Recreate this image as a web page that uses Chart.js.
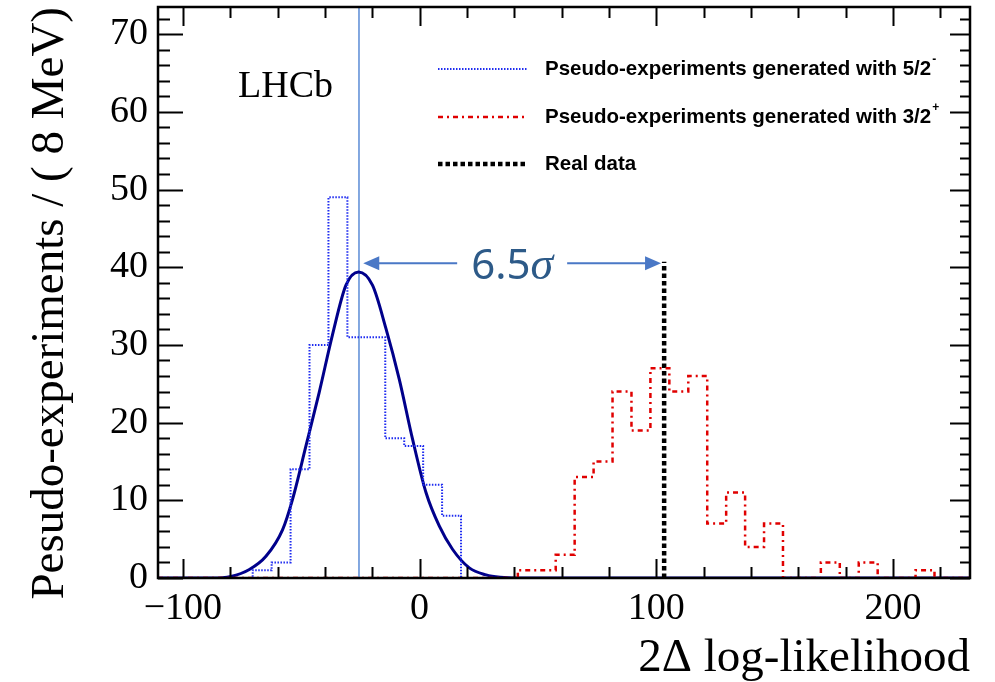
<!DOCTYPE html>
<html>
<head>
<meta charset="utf-8">
<script src="https://cdn.jsdelivr.net/npm/chart.js@4"></script>
<style>
  html, body { margin: 0; padding: 0; background: #fff; }
  #llChart { display: block; }
</style>
</head>
<body>
<canvas id="llChart" width="995" height="682"></canvas>
<script>
"use strict";

// bin edges shared by both toy histograms (8 units per bin)
const BIN_EDGES = [-110.5, -102.5, -94.5, -86.5, -78.5, -70.5, -62.5, -54.5, -46.5, -38.5,
  -30.5, -22.5, -14.5, -6.5, 1.5, 9.5, 17.5, 25.5, 33.5, 41.5, 49.5, 57.5, 65.5, 73.5,
  81.5, 89.5, 97.5, 105.5, 113.5, 121.5, 129.5, 137.5, 145.5, 153.5, 161.5, 169.5,
  177.5, 185.5, 193.5, 201.5, 209.5, 217.5, 225.5, 233.5];

// toys generated with 5/2-
const COUNTS_52M = [0, 0, 0, 0, 0, 1, 2, 14, 30, 49, 31, 31, 18, 17, 12, 8, 0, 0, 0, 0,
  0, 0, 0, 0, 0, 0, 0, 0, 0, 0, 0, 0, 0, 0, 0, 0, 0, 0, 0, 0, 0, 0, 0];
// toys generated with 3/2+
const COUNTS_32P = [0, 0, 0, 0, 0, 0, 0, 0, 0, 0, 0, 0, 0, 0, 0, 0, 0, 0, 0, 1,
  1, 3, 13, 15, 24, 19, 27, 24, 26, 7, 11, 4, 7, 0, 0, 2, 0, 2, 0, 0, 1, 0, 0];

// gaussian fit to the 5/2- toys
const FIT_X = [-110.5, -88, -79.7, -71.9, -64.9, -57.9, -53.7, -48.0, -42.4, -36.8, -31.1, -25.8,
  -19.9, -14.2, -8.6, -3.0, 2.7, 8.3, 13.9, 21.0, 28.1, 34, 42, 232.5];
const FIT_Y = [0, 0, 0.2, 1.1, 2.8, 6.2, 10.1, 17.0, 23.9, 31.3, 37.7, 39.4,
  37.7, 32.1, 25.6, 17.9, 11.0, 6.7, 3.7, 1.3, 0.4, 0.1, 0, 0];

const NULL_MEAN = -25.6;     // light blue marker
const REAL_DATA = 103.3;     // observed value
const REAL_DATA_TOP = 40.7;
const ARROW_FROM = -23.8;
const ARROW_TO = 102.0;
const ARROW_Y = 40.5;
const SIGNIFICANCE = "6.5";

const X_MIN = -110.5, X_MAX = 232.5;
const Y_MIN = 0, Y_MAX = 73.5;
const X_TICKS = [-100, 0, 100, 200];
const Y_TICKS = [0, 10, 20, 30, 40, 50, 60, 70];

const LEGEND_LABELS = ["Pseudo-experiments generated with 5/2", "Pseudo-experiments generated with 3/2", "Real data"];
const LEGEND_SUPS = ["-", "+", ""];

const SERIF = '"Liberation Serif", "Times New Roman", serif';

function histPoints(counts) {
  const pts = counts.map((c, i) => ({ x: BIN_EDGES[i], y: c }));
  pts.push({ x: BIN_EDGES[counts.length], y: counts[counts.length - 1] });
  return pts;
}

// ROOT-like frame with inward ticks on all four sides
const rootFrame = {
  id: "rootFrame",
  afterDatasetsDraw(chart) {
    const { ctx, chartArea: a, scales: { x, y } } = chart;
    ctx.save();
    ctx.strokeStyle = "#000";
    ctx.lineWidth = 2;
    ctx.beginPath();
    const xs = X_TICKS[1] - X_TICKS[0];
    for (let k = -5; k <= X_TICKS.length * 5; k++) {
      const v = X_TICKS[0] + k * xs / 5;
      if (v < x.min || v > x.max) continue;
      const px = Math.round(x.getPixelForValue(v)) + 0.5;
      const len = k % 5 === 0 ? 19 : 11;
      ctx.moveTo(px, a.bottom); ctx.lineTo(px, a.bottom - len);
      ctx.moveTo(px, a.top); ctx.lineTo(px, a.top + len);
    }
    const ys = Y_TICKS[1] - Y_TICKS[0];
    for (let k = 0; k <= Y_TICKS.length * 5; k++) {
      const v = Y_TICKS[0] + k * ys / 5;
      if (v < y.min || v > y.max) continue;
      const py = Math.round(y.getPixelForValue(v)) + 0.5;
      const major = k % 5 === 0;
      ctx.moveTo(a.left, py); ctx.lineTo(a.left + (major ? 25 : 12), py);
      ctx.moveTo(a.right, py); ctx.lineTo(a.right - (major ? 20 : 10), py);
    }
    ctx.stroke();
    ctx.lineWidth = 2.5;
    ctx.strokeRect(a.left, a.top, a.right - a.left, a.bottom - a.top);
    ctx.restore();
  }
};

// arrow with significance, LHCb tag and the legend
const annotations = {
  id: "annotations",
  afterDraw(chart) {
    const { ctx, scales: { x, y } } = chart;
    const ds = chart.data.datasets;
    ctx.save();

    // 6.5 sigma arrow
    const x0 = x.getPixelForValue(ARROW_FROM);
    const x1 = x.getPixelForValue(ARROW_TO);
    const ay = y.getPixelForValue(ARROW_Y);
    const xm = (x0 + x1) / 2;
    ctx.font = '42px "Noto Sans", sans-serif';
    const wNum = ctx.measureText(SIGNIFICANCE).width;
    ctx.font = 'italic 46px ' + SERIF;
    const wSig = ctx.measureText("\u03c3").width;
    const tw = wNum + wSig;
    const gap = tw / 2 + 14;
    ctx.strokeStyle = "#4a78c6";
    ctx.fillStyle = "#4a78c6";
    ctx.lineWidth = 2;
    ctx.beginPath();
    ctx.moveTo(x0 + 14, ay); ctx.lineTo(xm - gap, ay);
    ctx.moveTo(xm + gap, ay); ctx.lineTo(x1 - 14, ay);
    ctx.stroke();
    ctx.beginPath();
    ctx.moveTo(x0, ay); ctx.lineTo(x0 + 16, ay - 7); ctx.lineTo(x0 + 16, ay + 7); ctx.closePath();
    ctx.moveTo(x1, ay); ctx.lineTo(x1 - 16, ay - 7); ctx.lineTo(x1 - 16, ay + 7); ctx.closePath();
    ctx.fill();

    ctx.fillStyle = "#2d5a88";
    ctx.textBaseline = "alphabetic";
    ctx.textAlign = "left";
    ctx.font = '42px "Noto Sans", sans-serif';
    ctx.fillText(SIGNIFICANCE, xm - tw / 2, ay + 16);
    ctx.font = 'italic 46px ' + SERIF;
    ctx.fillText("\u03c3", xm - tw / 2 + wNum, ay + 16);

    // experiment tag
    ctx.fillStyle = "#000";
    ctx.font = '38px ' + SERIF;
    ctx.fillText("LHCb", 238, 97);

    // legend
    const rows = [69, 117, 164];
    LEGEND_LABELS.forEach((label, i) => {
      const d = ds[i];
      ctx.save();
      ctx.strokeStyle = d.borderColor;
      ctx.lineWidth = d.borderWidth;
      ctx.setLineDash(d.borderDash || []);
      ctx.beginPath();
      ctx.moveTo(438, rows[i]); ctx.lineTo(528, rows[i]);
      ctx.stroke();
      ctx.restore();
      ctx.fillStyle = "#000";
      ctx.textBaseline = "middle";
      ctx.font = 'bold 20.5px "Liberation Sans", Arial, sans-serif';
      ctx.fillText(label, 545, rows[i]);
      if (LEGEND_SUPS[i]) {
        const w = ctx.measureText(label).width;
        ctx.font = 'bold 12px "Liberation Sans", Arial, sans-serif';
        ctx.fillText(LEGEND_SUPS[i], 546 + w, rows[i] - 9);
      }
    });
    ctx.restore();
  }
};

const ctx = document.getElementById("llChart").getContext("2d");
const _ = new Chart(ctx, {
  type: "line",
  data: {
    datasets: [
      {
        label: "5/2-",
        data: histPoints(COUNTS_52M),
        stepped: "before",
        borderColor: "#1f2cf0",
        borderWidth: 2,
        borderDash: [1.5, 1.5],
        pointRadius: 0,
        fill: false,
      },
      {
        label: "3/2+",
        data: histPoints(COUNTS_32P),
        stepped: "before",
        borderColor: "#e00000",
        borderWidth: 2.5,
        borderDash: [5, 4, 2, 4],
        pointRadius: 0,
        fill: false,
      },
      {
        label: "Real data",
        data: [{ x: REAL_DATA, y: 0 }, { x: REAL_DATA, y: REAL_DATA_TOP }],
        borderColor: "#000",
        borderWidth: 4.5,
        borderDash: [4.5, 3],
        pointRadius: 0,
        fill: false,
      },
      {
        label: "fit",
        data: FIT_X.map((v, i) => ({ x: v, y: FIT_Y[i] })),
        borderColor: "#00008b",
        borderWidth: 3,
        cubicInterpolationMode: "monotone",
        pointRadius: 0,
        fill: false,
      },
      {
        label: "null mean",
        data: [{ x: NULL_MEAN, y: Y_MIN }, { x: NULL_MEAN, y: Y_MAX }],
        borderColor: "#5b8bd6",
        borderWidth: 1.5,
        pointRadius: 0,
        fill: false,
      },
    ],
  },
  options: {
    responsive: false,
    animation: false,
    layout: { padding: { top: 7, right: 25, left: 0, bottom: 0 } },
    plugins: { legend: { display: false }, tooltip: { enabled: false } },
    scales: {
      x: {
        type: "linear",
        min: X_MIN,
        max: X_MAX,
        grid: { display: false, drawTicks: false },
        border: { display: false },
        afterBuildTicks: s => { s.ticks = X_TICKS.map(v => ({ value: v })); },
        afterFit: s => { s.height = 104; s.paddingLeft = 0; s.paddingRight = 0; },
        ticks: {
          padding: 8,
          color: "#000",
          font: { family: SERIF, size: 38 },
          maxRotation: 0,
          callback: v => (v < 0 ? "\u2212" + Math.abs(v) : String(v)),
        },
        title: {
          display: true,
          text: "2\u0394 log-likelihood",
          align: "end",
          color: "#000",
          font: { family: SERIF, size: 47, lineHeight: 1.0 },
          padding: { top: 0, bottom: 0 },
        },
      },
      y: {
        min: Y_MIN,
        max: Y_MAX,
        grid: { display: false, drawTicks: false },
        border: { display: false },
        afterBuildTicks: s => { s.ticks = Y_TICKS.map(v => ({ value: v })); },
        afterFit: s => { s.width = 158; s.paddingTop = 0; s.paddingBottom = 0; },
        ticks: {
          padding: 10,
          color: "#000",
          font: { family: SERIF, size: 38 },
        },
        title: {
          display: true,
          text: "Pesudo-experiments / ( 8 MeV)",
          align: "end",
          color: "#000",
          font: { family: SERIF, size: 47, lineHeight: 1.2 },
          padding: { top: 22, bottom: 0 },
        },
      },
    },
  },
  plugins: [rootFrame, annotations],
});
</script>
</body>
</html>
